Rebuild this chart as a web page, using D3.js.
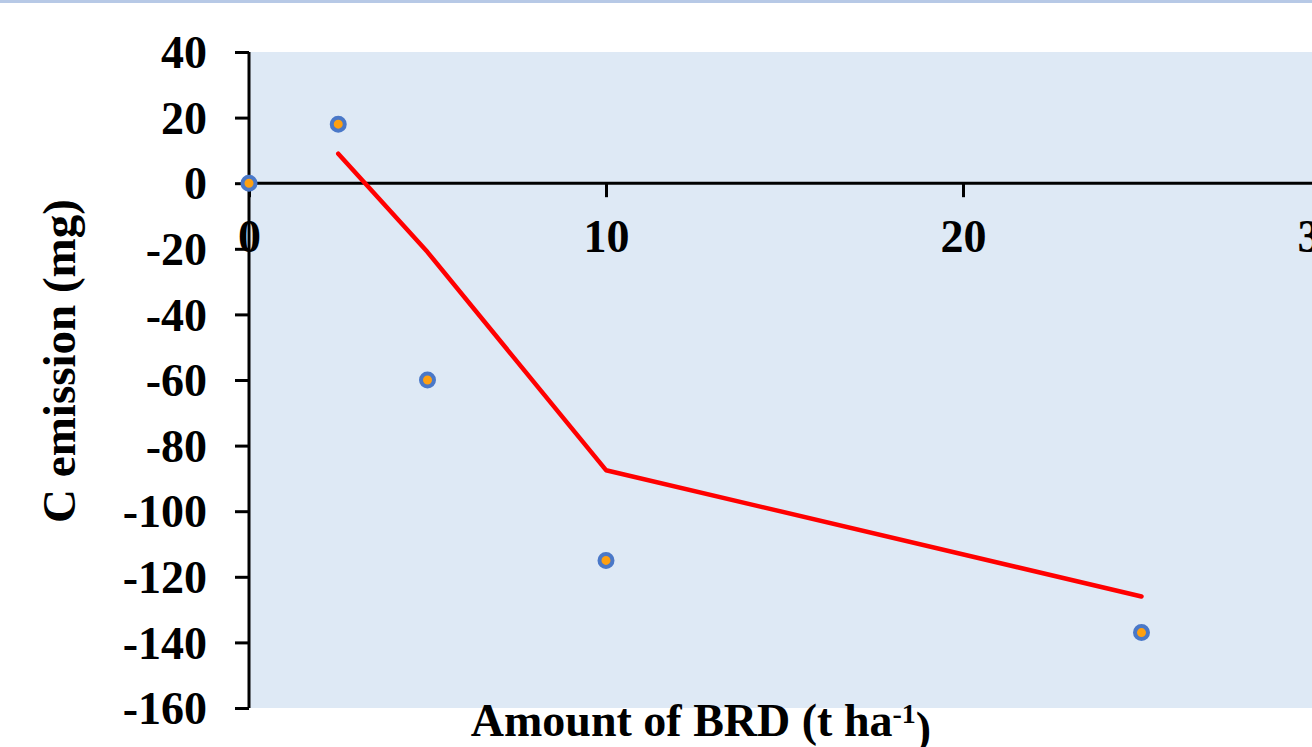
<!DOCTYPE html>
<html>
<head>
<meta charset="utf-8">
<script src="https://cdn.jsdelivr.net/npm/d3@7"></script>
<style>
  html, body { margin: 0; padding: 0; background: #ffffff; overflow: hidden; }
  svg { display: block; }
  text { font-family: "Liberation Serif", "Times New Roman", serif; font-weight: bold; fill: #000; }
</style>
</head>
<body>
<svg id="chart" width="1312" height="747"></svg>
<script>
// BRD application rate (t/ha) and measured C emission (mg)
const brdAmount = [0, 2.5, 5, 10, 25];
const cEmission = [0, 18, -60, -115, -137];

// Two-period moving-average trendline
const trendAmount = [2.5, 5, 10, 25];
const trendEmission = [9, -21, -87.5, -126];

const yTicks = [40, 20, 0, -20, -40, -60, -80, -100, -120, -140, -160];
const xTicks = [0, 10, 20, 30];

const svg = d3.select("#chart");
const W = 1312, H = 747;

const x = d3.scaleLinear().domain([0, 30]).range([249, 1320]);
const y = d3.scaleLinear().domain([-160, 40]).range([708, 52]);

// plain hyphen for negatives
const fmt = d => String(d);

// top frame border
svg.append("line")
  .attr("x1", 0).attr("x2", W).attr("y1", 1.5).attr("y2", 1.5)
  .attr("stroke", "#b7c9e6").attr("stroke-width", 3);

// plot area background
svg.append("rect")
  .attr("x", x(0)).attr("y", y(40))
  .attr("width", W - x(0)).attr("height", y(-160) - y(40))
  .attr("fill", "#dee9f5");

// y axis
const yAxis = svg.append("g")
  .attr("transform", `translate(${x(0)},0)`)
  .call(d3.axisLeft(y).tickValues(yTicks).tickSize(14).tickPadding(28).tickFormat(fmt));
yAxis.select(".domain").attr("stroke", "#000").attr("stroke-width", 3)
  .attr("d", `M0,${y(40)}V${y(-160)}`);
yAxis.selectAll(".tick line").attr("stroke", "#000").attr("stroke-width", 3);
yAxis.selectAll(".tick text")
  .style("font-family", "'Liberation Serif', 'Times New Roman', serif")
  .style("font-weight", "bold").style("font-size", "46px").attr("fill", "#000")
  .attr("dy", "0.34em");

// x axis drawn along y = 0
const xAxis = svg.append("g")
  .attr("transform", `translate(0,${y(0)})`)
  .call(d3.axisBottom(x).tickValues(xTicks).tickSize(14).tickPadding(22).tickFormat(fmt));
xAxis.select(".domain").attr("stroke", "#000").attr("stroke-width", 3)
  .attr("d", `M${x(0)},0H${W + 20}`);
xAxis.selectAll(".tick line").attr("stroke", "#000").attr("stroke-width", 3);
xAxis.selectAll(".tick text")
  .style("font-family", "'Liberation Serif', 'Times New Roman', serif")
  .style("font-weight", "bold").style("font-size", "46px").attr("fill", "#000");

// moving-average trendline
const line = d3.line().x(d => x(d[0])).y(d => y(d[1]));
svg.append("path")
  .datum(d3.zip(trendAmount, trendEmission))
  .attr("d", line)
  .attr("fill", "none")
  .attr("stroke", "#ff0000")
  .attr("stroke-width", 4.5)
  .attr("stroke-linecap", "round")
  .attr("stroke-linejoin", "round");

// data markers
svg.append("g").selectAll("circle")
  .data(d3.zip(brdAmount, cEmission))
  .join("circle")
  .attr("cx", d => x(d[0]))
  .attr("cy", d => y(d[1]))
  .attr("r", 6.5)
  .attr("fill", "#ffa010")
  .attr("stroke", "#4a78c8")
  .attr("stroke-width", 4);

// axis titles
svg.append("text")
  .attr("transform", `translate(75,${361}) rotate(-90)`)
  .attr("text-anchor", "middle")
  .style("font-size", "47px")
  .text("C emission (mg)");

const xt = svg.append("text")
  .attr("x", 701).attr("y", 736)
  .attr("text-anchor", "middle")
  .style("font-size", "46px");
xt.append("tspan").text("Amount of BRD (t ha");
xt.append("tspan").attr("dy", "-0.45em").style("font-size", "28px").text("-1");
xt.append("tspan").attr("dy", "0.45em").text(")");
</script>
</body>
</html>
